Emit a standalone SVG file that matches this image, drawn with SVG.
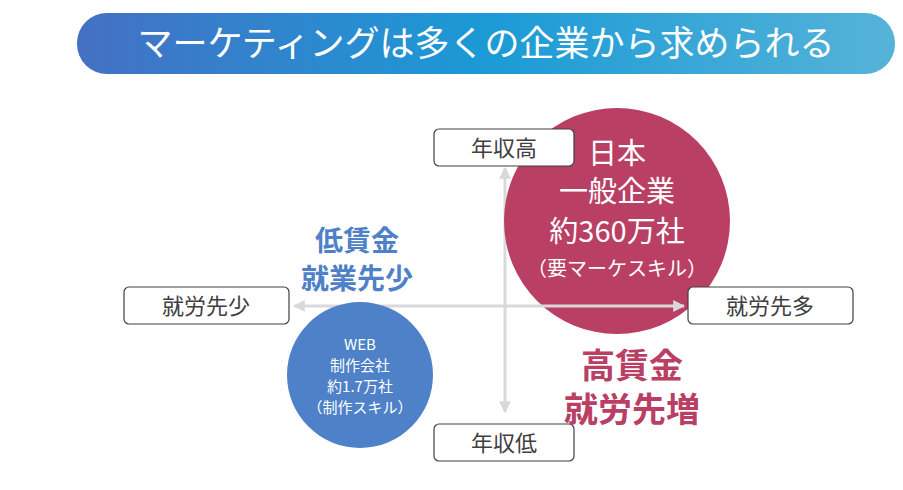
<svg xmlns="http://www.w3.org/2000/svg" width="903" height="490" viewBox="0 0 903 490">
<style>
text{font-family:"Noto Sans CJK JP","Noto Sans",sans-serif}
.box{fill:#fff;stroke:#404040;stroke-width:1.2}
.bl{font-size:22px;fill:#404040;text-anchor:middle}
.ax{stroke:#d9d9d9;stroke-width:3;fill:none}
</style>
<defs>
<linearGradient id="g" x1="0" x2="1" y1="0" y2="0"><stop offset="0" stop-color="#4470c4"/><stop offset="0.5" stop-color="#1b9ad6"/><stop offset="1" stop-color="#56b3d8"/></linearGradient>
<marker id="ah" viewBox="0 0 10 10" refX="9" refY="5" markerWidth="4" markerHeight="4" orient="auto-start-reverse"><path d="M0,0L10,5L0,10z" fill="#d9d9d9"/></marker>
</defs>
<g id="title"><rect x="77" y="13" width="818" height="61" rx="30" fill="url(#g)"/><text x="486" y="56" font-size="35" fill="#fff" text-anchor="middle">マーケティングは多くの企業から求められる</text></g>
<g id="connectors"><line class="ax" x1="505" y1="412" x2="505" y2="168" marker-start="url(#ah)" marker-end="url(#ah)"/></g>
<g id="japan"><circle cx="617" cy="221" r="113" fill="#b94064"/><text font-size="29" fill="#fff" text-anchor="middle"><tspan x="617" y="164">日本</tspan><tspan x="617" y="202">一般企業</tspan><tspan x="617" y="242">約360万社</tspan></text><text x="617" y="276" font-size="20" fill="#fff" text-anchor="middle">（要マーケスキル）</text></g>
<g id="connectors2"><line class="ax" x1="294" y1="306" x2="684" y2="306" marker-start="url(#ah)" marker-end="url(#ah)"/></g>
<g id="web"><circle cx="360" cy="375" r="73" fill="#4e81c8"/><text font-size="15" fill="#fff" text-anchor="middle"><tspan x="360" y="350">WEB</tspan><tspan x="360" y="371">制作会社</tspan><tspan x="360" y="392">約1.7万社</tspan><tspan x="360" y="413">（制作スキル）</tspan></text></g>
<g id="high"><rect class="box" x="434" y="129" width="140" height="37" rx="5"/><text class="bl" x="504" y="156">年収高</text></g>
<g id="low"><rect class="box" x="434" y="424" width="140" height="37" rx="5"/><text class="bl" x="504" y="451">年収低</text></g>
<g id="left"><rect class="box" x="124" y="287" width="165" height="37" rx="5"/><text class="bl" x="206" y="314">就労先少</text></g>
<g id="right"><rect class="box" x="688" y="287" width="165" height="37" rx="5"/><text class="bl" x="770" y="314">就労先多</text></g>
<g id="lowwage"><text font-size="28" font-weight="bold" fill="#4e81c8" text-anchor="middle"><tspan x="357" y="251">低賃金</tspan><tspan x="357" y="289">就業先少</tspan></text></g>
<g id="highwage"><text font-size="34" font-weight="bold" fill="#b94064" text-anchor="middle"><tspan x="632" y="378">高賃金</tspan><tspan x="632" y="422">就労先増</tspan></text></g>
</svg>
